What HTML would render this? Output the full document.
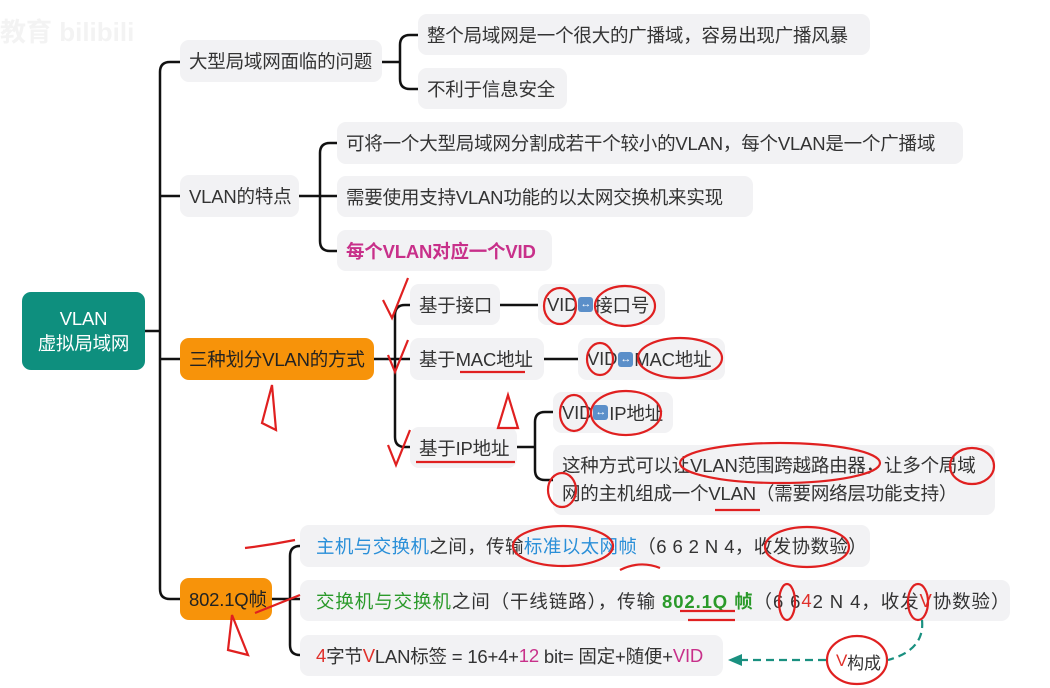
<!DOCTYPE html>
<html><head><meta charset="utf-8"><style>
body{margin:0;width:1050px;height:688px;background:#fff;position:relative;overflow:hidden;font-family:"Liberation Sans","Noto Sans CJK SC",sans-serif;color:#333;}
.n{position:absolute;background:#f2f2f4;border-radius:9px;font-size:18.5px;display:flex;align-items:center;padding-left:9px;box-sizing:border-box;white-space:nowrap;letter-spacing:-0.2px}
.o{background:#f7930a;color:#222;}
svg{position:absolute;left:0;top:0}
.pk{color:#c8308a}
.bl{color:#2a8fd8}
.gr{color:#2a9a2a}
.rd{color:#e0302a}
.ar{display:inline-block;width:15px;height:15px;background:#5b8fc9;border-radius:3px;color:#fff;font-size:11px;line-height:15px;text-align:center;margin:0 1px}
</style></head><body>
<div style="position:absolute;left:0;top:12px;font-size:26px;color:#f3f3f3;font-weight:bold">教育 bilibili</div>
<svg width="1050" height="688">
<g fill="none" stroke="#111" stroke-width="2.5">
<path d="M145 331H160M180 62H170Q160 62 160 72V589Q160 599 170 599H180M160 196H180M160 359H180"/>
<path d="M382 62H400M418 35H410Q400 35 400 45V79Q400 89 410 89H418"/>
<path d="M299 196H337M337 143H330Q320 143 320 153V241Q320 251 330 251H337"/>
<path d="M374 359H410M410 305H405Q395 305 395 315V437Q395 447 405 447H410"/>
<path d="M500 305H538M544 359H578"/>
<path d="M517 447H535M553 412H545Q535 412 535 422V470Q535 480 545 480H553"/>
<path d="M272 599H300M300 546Q290 546 290 556V645Q290 655 300 655"/>
</g>
</svg>
<div class="n" style="left:22px;top:292px;width:123px;height:78px;background:#0e8f7e;color:#fff;justify-content:center;padding:0;text-align:center;line-height:25px">VLAN<br>虚拟局域网</div>
<div class="n" style="left:180px;top:40px;width:202px;height:42px">大型局域网面临的问题</div>
<div class="n" style="left:418px;top:14px;width:452px;height:41px">整个局域网是一个很大的广播域，容易出现广播风暴</div>
<div class="n" style="left:418px;top:68px;width:149px;height:41px">不利于信息安全</div>
<div class="n" style="left:180px;top:175px;width:119px;height:42px">VLAN的特点</div>
<div class="n" style="left:337px;top:122px;width:626px;height:42px">可将一个大型局域网分割成若干个较小的VLAN，每个VLAN是一个广播域</div>
<div class="n" style="left:337px;top:176px;width:416px;height:41px">需要使用支持VLAN功能的以太网交换机来实现</div>
<div class="n pk" style="left:337px;top:230px;width:215px;height:41px;font-weight:bold">每个VLAN对应一个VID</div>
<div class="n o" style="left:180px;top:338px;width:194px;height:42px">三种划分VLAN的方式</div>
<div class="n" style="left:410px;top:284px;width:90px;height:41px">基于接口</div>
<div class="n" style="left:538px;top:284px;width:127px;height:41px">VID<span class="ar">↔</span>接口号</div>
<div class="n" style="left:410px;top:338px;width:134px;height:42px">基于MAC地址</div>
<div class="n" style="left:578px;top:338px;width:147px;height:42px">VID<span class="ar">↔</span>MAC地址</div>
<div class="n" style="left:410px;top:427px;width:107px;height:41px">基于IP地址</div>
<div class="n" style="left:553px;top:392px;width:120px;height:41px">VID<span class="ar">↔</span>IP地址</div>
<div class="n" style="left:553px;top:445px;width:442px;height:70px;line-height:28px">这种方式可以让VLAN范围跨越路由器，让多个局域<br>网的主机组成一个VLAN（需要网络层功能支持）</div>
<div class="n o" style="left:180px;top:578px;width:92px;height:42px">802.1Q帧</div>
<div class="n" style="left:300px;top:525px;width:570px;height:42px;padding-left:16px;letter-spacing:0.4px"><span class="bl">主机与交换机</span>之间，传输<span class="bl">标准以太网帧</span>（6 6 2 N 4，收发协数验）</div>
<div class="n" style="left:300px;top:580px;width:710px;height:41px;padding-left:16px;letter-spacing:0.9px"><span class="gr">交换机与交换机</span>之间（干线链路），传输 <b class="gr">&nbsp;802.1Q 帧</b>（6 6 <span class="rd">4</span> 2 N 4，收发<span class="rd">V</span>协数验）</div>
<div class="n" style="left:300px;top:635px;width:423px;height:41px;padding-left:16px"><span class="rd">4</span>字节<span class="rd">V</span>LAN标签 = 16+4+<span class="pk">12</span>&nbsp;bit= 固定+随便+<span class="pk">VID</span></div>
<div class="n" style="left:830px;top:648px;width:58px;height:26px;background:#fff;font-size:17px;padding-left:6px"><span class="rd">V</span>构成</div>
<svg width="1050" height="688">
<g fill="none" stroke="#e02020" stroke-width="2.2">
<path d="M383 300L392 318L408 278M388 355L395 372L408 340M388 445L396 465L410 430"/>
<path d="M262 423L272 385L276 430Z M498 428L508 395L518 428Z M228 650L232 615L248 655Z"/>
<ellipse cx="560" cy="306" rx="16" ry="18"/><ellipse cx="625" cy="306" rx="30" ry="20"/>
<ellipse cx="600" cy="359" rx="13" ry="16"/><ellipse cx="680" cy="358" rx="42" ry="20"/>
<ellipse cx="574" cy="413" rx="14" ry="18"/><ellipse cx="626" cy="413" rx="35" ry="22"/>
<ellipse cx="780" cy="463" rx="100" ry="20"/><ellipse cx="972" cy="466" rx="22" ry="18"/><ellipse cx="562" cy="490" rx="14" ry="17"/>
<ellipse cx="563" cy="546" rx="50" ry="20"/><ellipse cx="807" cy="547" rx="42" ry="20"/>
<ellipse cx="787" cy="602" rx="8" ry="18"/><ellipse cx="918" cy="602" rx="10" ry="18"/><ellipse cx="857" cy="660" rx="30" ry="24"/>
<path d="M245 548Q270 545 295 540M255 613L300 595M620 570Q640 560 660 568M680 611H735M688 620H735M460 372H525M416 462H515M715 510H760"/>
</g>
<path d="M922 620Q925 650 888 660M826 660H735" fill="none" stroke="#1a9080" stroke-width="2.2" stroke-dasharray="8 5"/>
<path d="M728 660L742 654V666Z" fill="#1a9080"/>
</svg>
</body></html>
